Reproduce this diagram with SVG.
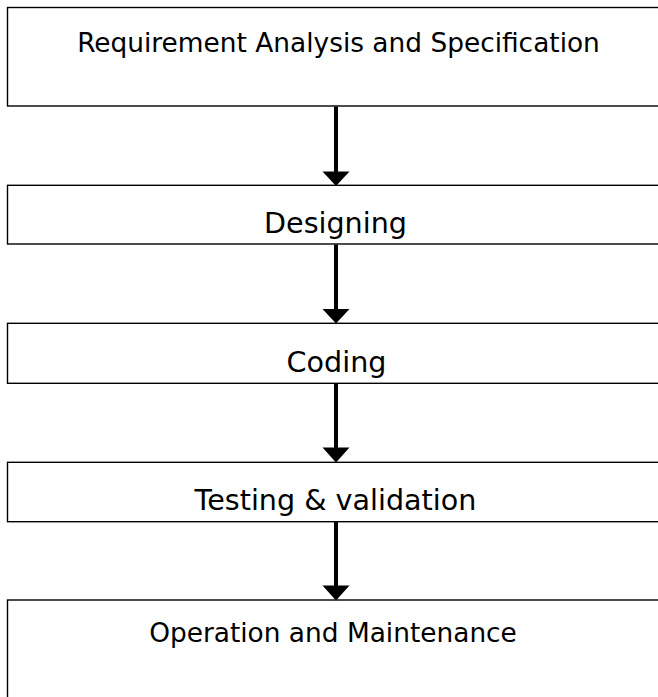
<svg xmlns="http://www.w3.org/2000/svg" width="658" height="697" viewBox="0 0 658 697">
<style>
.box{fill:#fff;stroke:#000;stroke-width:1.4}
.lbl{font-family:"DejaVu Sans",Verdana,sans-serif;fill:#000;text-anchor:middle}
.sm{font-size:26.4px}
.lg{font-size:28.6px}
.shaft{stroke:#000;stroke-width:4;fill:none}
.head{fill:#000}
</style>
<rect width="658" height="697" fill="#fff"/>
<g id="n1"><rect class="box" x="7.5" y="7.5" width="700" height="98.5"/><text class="lbl sm" x="338.5" y="52.3">Requirement Analysis and Specification</text></g>
<g id="n2"><rect class="box" x="7.5" y="185.3" width="700" height="58.7"/><text class="lbl lg" x="335.5" y="233.3">Designing</text></g>
<g id="n3"><rect class="box" x="7.5" y="323.3" width="700" height="60"/><text class="lbl lg" x="336.5" y="371.7">Coding</text></g>
<g id="n4"><rect class="box" x="7.5" y="462.3" width="700" height="59.4"/><text class="lbl lg" x="335.5" y="510">Testing &amp; validation</text></g>
<g id="n5"><rect class="box" x="7.5" y="600" width="700" height="120"/><text class="lbl sm" x="333" y="641.7">Operation and Maintenance</text></g>
<g id="connectors">
<line class="shaft" x1="336" y1="106.5" x2="336" y2="172"/><polygon class="head" points="322.5,171.5 349.5,171.5 336,186"/>
<line class="shaft" x1="336" y1="244.5" x2="336" y2="310"/><polygon class="head" points="322.5,309 349.5,309 336,323.5"/>
<line class="shaft" x1="336" y1="383.5" x2="336" y2="448"/><polygon class="head" points="322.5,447.5 349.5,447.5 336,462.5"/>
<line class="shaft" x1="336" y1="522" x2="336" y2="586"/><polygon class="head" points="322.5,585.5 349.5,585.5 336,600.5"/>
</g>
</svg>
